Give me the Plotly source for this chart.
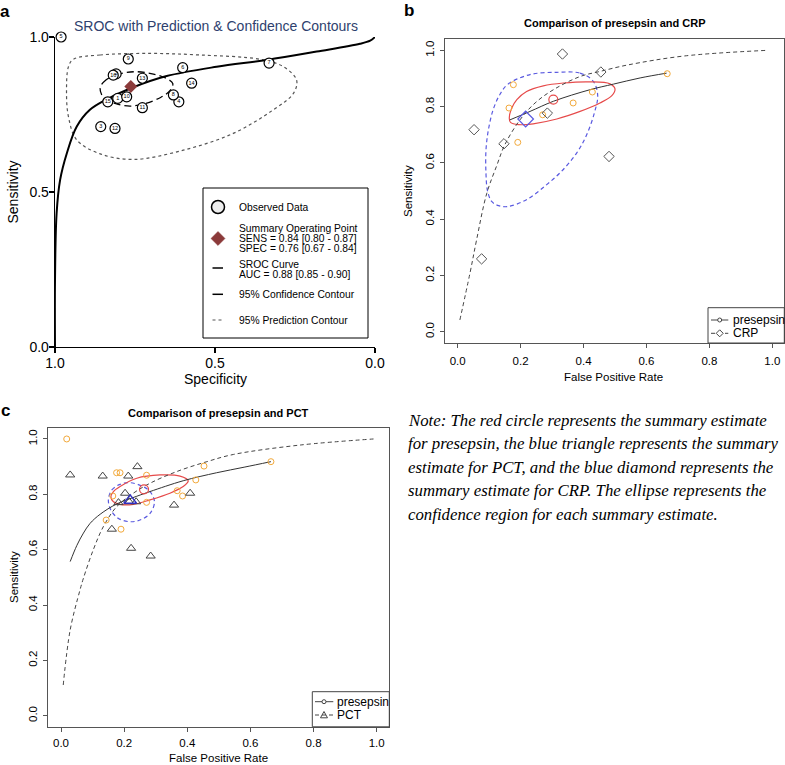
import plotly.graph_objects as go

# ---------------- DATA ----------------
# Panel a: observed studies (specificity, sensitivity, study id)
a_spec = [0.804, 0.809, 0.857, 0.613, 0.981, 0.601, 0.331, 0.630, 0.771, 0.776, 0.727, 0.8125, 0.727, 0.573, 0.835, 0.818]
a_sens = [0.802, 0.881, 0.711, 0.791, 1.000, 0.901, 0.916, 0.813, 0.929, 0.807, 0.772, 0.705, 0.867, 0.851, 0.791, 0.877]
a_ids = [str(i) for i in range(1, 17)]
a_sum_spec = [0.763]
a_sum_sens = [0.840]
a_sroc_spec = [1.0, 1.0, 0.995, 0.984, 0.963, 0.932, 0.891, 0.838, 0.755, 0.651, 0.495, 0.338, 0.182, 0.047, 0.015, 0.0]
a_sroc_sens = [0.0, 0.216, 0.431, 0.539, 0.625, 0.711, 0.765, 0.799, 0.838, 0.874, 0.904, 0.926, 0.953, 0.978, 0.988, 1.0]
a_conf_spec = [0.859, 0.84, 0.80, 0.75, 0.70, 0.655, 0.632, 0.64, 0.67, 0.72, 0.766, 0.81, 0.845, 0.859]
a_conf_sens = [0.835, 0.862, 0.88, 0.888, 0.882, 0.868, 0.85, 0.828, 0.805, 0.785, 0.777, 0.785, 0.80, 0.835]
a_pred_spec = [0.943, 0.859, 0.703, 0.547, 0.359, 0.286, 0.245, 0.255, 0.318, 0.443, 0.599, 0.755, 0.859, 0.932, 0.958, 0.964, 0.958, 0.943]
a_pred_sens = [0.928, 0.942, 0.947, 0.942, 0.928, 0.904, 0.861, 0.818, 0.765, 0.689, 0.635, 0.605, 0.623, 0.668, 0.743, 0.829, 0.904, 0.928]
a_legend_text = ["Observed Data", "Summary Operating Point", "SENS = 0.84 [0.80 - 0.87]",
                 "SPEC = 0.76 [0.67 - 0.84]", "SROC Curve", "AUC = 0.88 [0.85 - 0.90]",
                 "95% Confidence Contour", "95% Prediction Contour"]

# Panel b: presepsin vs CRP (false positive rate, sensitivity)
b_pre_fpr = [0.177, 0.163, 0.191, 0.270, 0.367, 0.428, 0.666]
b_pre_sens = [0.878, 0.795, 0.673, 0.771, 0.813, 0.852, 0.917]
b_crp_fpr = [0.333, 0.455, 0.052, 0.147, 0.285, 0.481, 0.076]
b_crp_sens = [0.987, 0.923, 0.718, 0.668, 0.777, 0.623, 0.259]
b_pre_sum = (0.304, 0.825)
b_crp_sum = (0.216, 0.756)
b_pre_sroc_fpr = [0.166, 0.23, 0.304, 0.42, 0.495, 0.58, 0.664]
b_pre_sroc_sens = [0.753, 0.783, 0.819, 0.86, 0.88, 0.902, 0.919]
b_crp_sroc_fpr = [0.007, 0.039, 0.06, 0.092, 0.124, 0.15, 0.198, 0.246, 0.304, 0.389, 0.452, 0.54, 0.72, 0.982]
b_crp_sroc_sens = [0.042, 0.208, 0.326, 0.49, 0.59, 0.665, 0.753, 0.813, 0.86, 0.907, 0.925, 0.948, 0.98, 1.0]
b_pre_ell_fpr = [0.164, 0.172, 0.188, 0.219, 0.272, 0.336, 0.42, 0.484, 0.5, 0.49, 0.452, 0.389, 0.315, 0.24, 0.193, 0.168, 0.164]
b_pre_ell_sens = [0.759, 0.795, 0.825, 0.854, 0.874, 0.884, 0.888, 0.881, 0.863, 0.839, 0.813, 0.783, 0.756, 0.739, 0.736, 0.744, 0.759]
b_crp_ell_fpr = [0.315, 0.389, 0.431, 0.445, 0.435, 0.41, 0.378, 0.33, 0.28, 0.22, 0.16, 0.13, 0.108, 0.095, 0.09, 0.09, 0.098, 0.113, 0.135, 0.16, 0.23, 0.315]
b_crp_ell_sens = [0.922, 0.919, 0.89, 0.84, 0.78, 0.70, 0.635, 0.57, 0.52, 0.47, 0.445, 0.448, 0.463, 0.50, 0.56, 0.647, 0.72, 0.79, 0.845, 0.88, 0.914, 0.922]

# Panel c: presepsin vs PCT
c_pre_fpr = [0.018, 0.176, 0.187, 0.453, 0.271, 0.427, 0.368, 0.385, 0.164, 0.271, 0.143, 0.190, 0.665]
c_pre_sens = [1.0, 0.878, 0.878, 0.902, 0.869, 0.852, 0.813, 0.794, 0.794, 0.771, 0.707, 0.674, 0.918]
c_pct_fpr = [0.029, 0.132, 0.213, 0.242, 0.203, 0.182, 0.216, 0.238, 0.409, 0.358, 0.161, 0.222, 0.284]
c_pct_sens = [0.870, 0.866, 0.866, 0.900, 0.804, 0.770, 0.773, 0.773, 0.804, 0.761, 0.674, 0.605, 0.577]
c_pre_sum = (0.263, 0.818)
c_pct_sum = (0.219, 0.778)
c_pre_sroc_fpr = [0.029, 0.05, 0.071, 0.092, 0.124, 0.176, 0.24, 0.282, 0.387, 0.493, 0.58, 0.665]
c_pre_sroc_sens = [0.557, 0.615, 0.66, 0.695, 0.728, 0.765, 0.793, 0.81, 0.849, 0.878, 0.898, 0.918]
c_pct_sroc_fpr = [0.007, 0.029, 0.06, 0.071, 0.102, 0.134, 0.176, 0.229, 0.282, 0.366, 0.462, 0.546, 0.757, 0.99]
c_pct_sroc_sens = [0.111, 0.31, 0.454, 0.497, 0.599, 0.683, 0.755, 0.804, 0.84, 0.882, 0.918, 0.944, 0.978, 1.0]
c_pre_ell_fpr = [0.158, 0.166, 0.187, 0.24, 0.314, 0.377, 0.403, 0.387, 0.345, 0.282, 0.229, 0.187, 0.166, 0.158]
c_pre_ell_sens = [0.791, 0.81, 0.828, 0.858, 0.87, 0.866, 0.849, 0.828, 0.804, 0.78, 0.764, 0.764, 0.773, 0.791]
c_pct_ell_fpr = [0.150, 0.161, 0.187, 0.219, 0.256, 0.282, 0.296, 0.282, 0.250, 0.219, 0.182, 0.158, 0.150]
c_pct_ell_sens = [0.780, 0.816, 0.836, 0.842, 0.830, 0.810, 0.773, 0.731, 0.707, 0.701, 0.713, 0.743, 0.780]

ticks_a = [1.0, 0.5, 0.0]
ticks_bc = [0.0, 0.2, 0.4, 0.6, 0.8, 1.0]

note_lines = ["Note: The red circle represents the summary estimate",
              "for presepsin, the blue triangle represents the summary",
              "estimate for PCT, and the blue diamond represents the",
              "summary estimate for CRP. The ellipse represents the",
              "confidence region for each summary estimate."]

# ---------------- STYLE / LAYOUT HELPERS ----------------
W, H = 785, 765
FONT = "Liberation Sans, Arial, sans-serif"
ORANGE = "#f2a93b"
RED = "#e64b4b"
BLUE = "#5a5ae0"
GREY = "#444444"
SHORTDASH = "4px,3px"


def X(px):
    return px / W


def Y(py):
    return 1 - py / H


fig = go.Figure()


def sc(x, y, ax, **kw):
    fig.add_trace(go.Scatter(x=x, y=y, xaxis="x" + ax, yaxis="y" + ax, showlegend=False,
                             hoverinfo="skip", cliponaxis=False, **kw))


# ---- Panel a ----
sc(a_pred_spec, a_pred_sens, "", mode="lines", line=dict(color="#555555", width=1.2, dash="dot", shape="spline"))
sc(a_conf_spec, a_conf_sens, "", mode="lines", line=dict(color="black", width=1.3, dash="7px,4px", shape="spline"))
sc(a_sroc_spec, a_sroc_sens, "", mode="lines", line=dict(color="black", width=2, shape="spline"))
sc(a_spec, a_sens, "", mode="markers+text", text=a_ids, textposition="middle center",
   textfont=dict(size=5.5, family=FONT, color="black"),
   marker=dict(symbol="circle", size=10, color="white", line=dict(color="black", width=1.2)))
sc(a_sum_spec, a_sum_sens, "", mode="markers",
   marker=dict(symbol="diamond", size=10, color="#8b3a3a", line=dict(width=0)))

# ---- Panel b ----
sc(b_crp_ell_fpr, b_crp_ell_sens, "2", mode="lines", line=dict(color=BLUE, width=1.2, dash=SHORTDASH, shape="spline"))
sc(b_pre_ell_fpr, b_pre_ell_sens, "2", mode="lines", line=dict(color=RED, width=1.2, shape="spline"))
sc(b_crp_sroc_fpr, b_crp_sroc_sens, "2", mode="lines", line=dict(color=GREY, width=1, dash=SHORTDASH, shape="spline"))
sc(b_pre_sroc_fpr, b_pre_sroc_sens, "2", mode="lines", line=dict(color="#333333", width=1, shape="spline"))
sc(b_pre_fpr, b_pre_sens, "2", mode="markers", marker=dict(symbol="circle-open", size=6, color=ORANGE, line=dict(width=1)))
sc(b_crp_fpr, b_crp_sens, "2", mode="markers", marker=dict(symbol="diamond-open", size=8, color="#555555", line=dict(width=1)))
sc([b_pre_sum[0]], [b_pre_sum[1]], "2", mode="markers", marker=dict(symbol="circle-open", size=9, color=RED, line=dict(width=1.2)))
sc([b_crp_sum[0]], [b_crp_sum[1]], "2", mode="markers", marker=dict(symbol="diamond-open", size=12, color=BLUE, line=dict(width=1.2)))

# ---- Panel c ----
sc(c_pct_ell_fpr, c_pct_ell_sens, "3", mode="lines", line=dict(color=BLUE, width=1.2, dash=SHORTDASH, shape="spline"))
sc(c_pre_ell_fpr, c_pre_ell_sens, "3", mode="lines", line=dict(color=RED, width=1.2, shape="spline"))
sc(c_pct_sroc_fpr, c_pct_sroc_sens, "3", mode="lines", line=dict(color=GREY, width=1, dash=SHORTDASH, shape="spline"))
sc(c_pre_sroc_fpr, c_pre_sroc_sens, "3", mode="lines", line=dict(color="#333333", width=1, shape="spline"))
sc(c_pre_fpr, c_pre_sens, "3", mode="markers", marker=dict(symbol="circle-open", size=6, color=ORANGE, line=dict(width=1)))
sc(c_pct_fpr, c_pct_sens, "3", mode="markers", marker=dict(symbol="triangle-up-open", size=8, color="#444444", line=dict(width=1)))
sc([c_pre_sum[0]], [c_pre_sum[1]], "3", mode="markers", marker=dict(symbol="circle-open", size=9, color=RED, line=dict(width=1.2)))
sc([c_pct_sum[0]], [c_pct_sum[1]], "3", mode="markers", marker=dict(symbol="triangle-up-open", size=11, color="#3030c0", line=dict(width=1.5)))

# ---------------- AXES ----------------
ax_a = dict(showgrid=False, zeroline=False, showline=True, linecolor="black", linewidth=1.3,
            ticks="outside", ticklen=5, tickwidth=1.2, tickcolor="black", automargin=False,
            tickfont=dict(size=14, family=FONT, color="black"),
            tickvals=ticks_a, ticktext=["%.1f" % v for v in ticks_a])
ax_bc = dict(showgrid=False, zeroline=False, showline=True, mirror=True, linecolor="#555555", linewidth=1,
             ticks="outside", ticklen=4, tickwidth=1, tickcolor="#555555", automargin=False,
             tickfont=dict(size=11.5, family=FONT, color="black"),
             tickvals=ticks_bc, ticktext=["%.1f" % v for v in ticks_bc])

fig.update_layout(
    xaxis=dict(ax_a, domain=[X(55), X(375)], range=[1, 0], anchor="y", ticklabelstandoff=-2),
    yaxis=dict(ax_a, domain=[Y(347), Y(37)], range=[0, 1], anchor="x", ticklabelstandoff=-3),
    xaxis2=dict(ax_bc, domain=[X(445.1), X(784.3)], range=[-0.04, 1.0381], anchor="y2", ticklabelstandoff=3),
    yaxis2=dict(ax_bc, domain=[Y(343.0), Y(39.1)], range=[-0.04, 1.04], anchor="x2", tickangle=-90, ticklabelstandoff=2),
    xaxis3=dict(ax_bc, domain=[X(48.4), X(389.3)], range=[-0.04, 1.04], anchor="y3", ticklabelstandoff=1),
    yaxis3=dict(ax_bc, domain=[Y(726.8), Y(427.9)], range=[-0.04, 1.04], anchor="x3", tickangle=-90, ticklabelstandoff=2),
)

# ---------------- ANNOTATIONS & SHAPES ----------------
anns = []
shapes = []


def ann(text, px, py, size, xanchor="center", color="black", family=FONT, angle=0):
    anns.append(dict(text=text, x=X(px), y=Y(py), xref="paper", yref="paper", showarrow=False,
                     xanchor=xanchor, yanchor="middle", textangle=angle,
                     font=dict(size=size, family=family, color=color)))


def line(px0, py0, px1, py1, color="black", width=1, dash="solid"):
    shapes.append(dict(type="line", xref="paper", yref="paper", x0=X(px0), y0=Y(py0), x1=X(px1), y1=Y(py1),
                       line=dict(color=color, width=width, dash=dash)))


def rect(px0, py0, px1, py1, color="black", width=1):
    shapes.append(dict(type="rect", xref="paper", yref="paper", x0=X(px0), y0=Y(py1), x1=X(px1), y1=Y(py0),
                       line=dict(color=color, width=width), fillcolor="rgba(255,255,255,0)"))


def circle(cx, cy, r, color="black", fill="rgba(0,0,0,0)", width=1):
    shapes.append(dict(type="circle", xref="paper", yref="paper", x0=X(cx - r), x1=X(cx + r), y0=Y(cy + r), y1=Y(cy - r),
                       line=dict(color=color, width=width), fillcolor=fill))


def diamond(cx, cy, r, color="black", fill="rgba(0,0,0,0)", width=1):
    p = "M %f,%f L %f,%f L %f,%f L %f,%f Z" % (X(cx), Y(cy - r), X(cx + r), Y(cy), X(cx), Y(cy + r), X(cx - r), Y(cy))
    shapes.append(dict(type="path", xref="paper", yref="paper", path=p,
                       line=dict(color=color, width=width), fillcolor=fill))


def triangle(cx, cy, r, color="black", width=1):
    p = "M %f,%f L %f,%f L %f,%f Z" % (X(cx), Y(cy - r), X(cx + r), Y(cy + r * 0.8), X(cx - r), Y(cy + r * 0.8))
    shapes.append(dict(type="path", xref="paper", yref="paper", path=p,
                       line=dict(color=color, width=width), fillcolor="rgba(0,0,0,0)"))


# panel letters
ann("<b>a</b>", 5, 12, 17, xanchor="center")
ann("<b>b</b>", 409, 10.5, 17, xanchor="center")
ann("<b>c</b>", 5, 410, 17, xanchor="center")

# titles
ann("SROC with Prediction &amp; Confidence Contours", 216, 26, 14, color="#2e3f6e")
ann("<b>Comparison of presepsin and CRP</b>", 614.7, 23.3, 11)
ann("<b>Comparison of presepsin and PCT</b>", 218.3, 412.7, 11)

# axis titles
ann("Sensitivity", 12.5, 192, 14, angle=-90)
ann("Specificity", 215, 379, 14)
ann("Sensitivity", 408, 191, 11.5, angle=-90)
ann("False Positive Rate", 613, 377, 11.5)
ann("Sensitivity", 14, 577, 11.5, angle=-90)
ann("False Positive Rate", 218, 758, 11.5)

# panel a legend
rect(203, 188, 368, 338, width=1)
circle(218, 207, 6.5, color="black", fill="#eeeeee", width=1.5)
ann(a_legend_text[0], 237, 208, 10.3, xanchor="left")
diamond(218, 238.5, 7, color="#8b3a3a", fill="#8b3a3a", width=0.5)
ann(a_legend_text[1], 237, 228.3, 10.3, xanchor="left")
ann(a_legend_text[2], 237, 238.7, 10.3, xanchor="left")
ann(a_legend_text[3], 237, 249, 10.3, xanchor="left")
line(212.5, 268, 223, 268, width=1.5)
ann(a_legend_text[4], 237, 264, 10.3, xanchor="left")
ann(a_legend_text[5], 237, 274.3, 10.3, xanchor="left")
line(212.5, 294.3, 223, 294.3, width=1.5)
ann(a_legend_text[6], 237, 294.5, 10.3, xanchor="left")
line(212.5, 320, 223, 320, color="#555555", width=1.2, dash="dot")
ann(a_legend_text[7], 237, 320, 10.3, xanchor="left")

# panel b legend
rect(708, 307.7, 784.3, 343.0, color="#444444", width=1)
line(711, 320, 728.3, 320, color=GREY, width=1)
circle(719.7, 320, 2, color=GREY, fill="white", width=1)
ann("presepsin", 731, 320, 12, xanchor="left")
line(711, 333.3, 728.3, 333.3, color=GREY, width=1, dash=SHORTDASH)
diamond(719.7, 333.3, 3.5, color=GREY, fill="white", width=1)
ann("CRP", 731, 333.3, 12, xanchor="left")

# panel c legend
rect(312.3, 691.7, 389.3, 726.8, color="#444444", width=1)
line(315, 701.7, 333.3, 701.7, color=GREY, width=1)
circle(324, 701.7, 2, color=GREY, fill="white", width=1)
ann("presepsin", 335, 701.7, 12, xanchor="left")
line(315, 715, 333.3, 715, color=GREY, width=1, dash=SHORTDASH)
triangle(324, 715, 3.5, color=GREY, width=1)
ann("PCT", 335, 715, 12, xanchor="left")

# note text
for i, t in enumerate(note_lines):
    ann("<i>%s</i>" % t, 406, 420 + i * 23.5, 16.8, xanchor="left", family="Liberation Serif, Times New Roman, serif")

fig.update_layout(width=W, height=H, margin=dict(l=0, r=0, t=0, b=0, autoexpand=False),
                  paper_bgcolor="white", plot_bgcolor="white",
                  annotations=anns, shapes=shapes, showlegend=False)

fig.write_html("out.html", config={"displayModeBar": False, "staticPlot": True},
               post_script="document.body.style.margin='0px';document.body.style.overflow='hidden';")
